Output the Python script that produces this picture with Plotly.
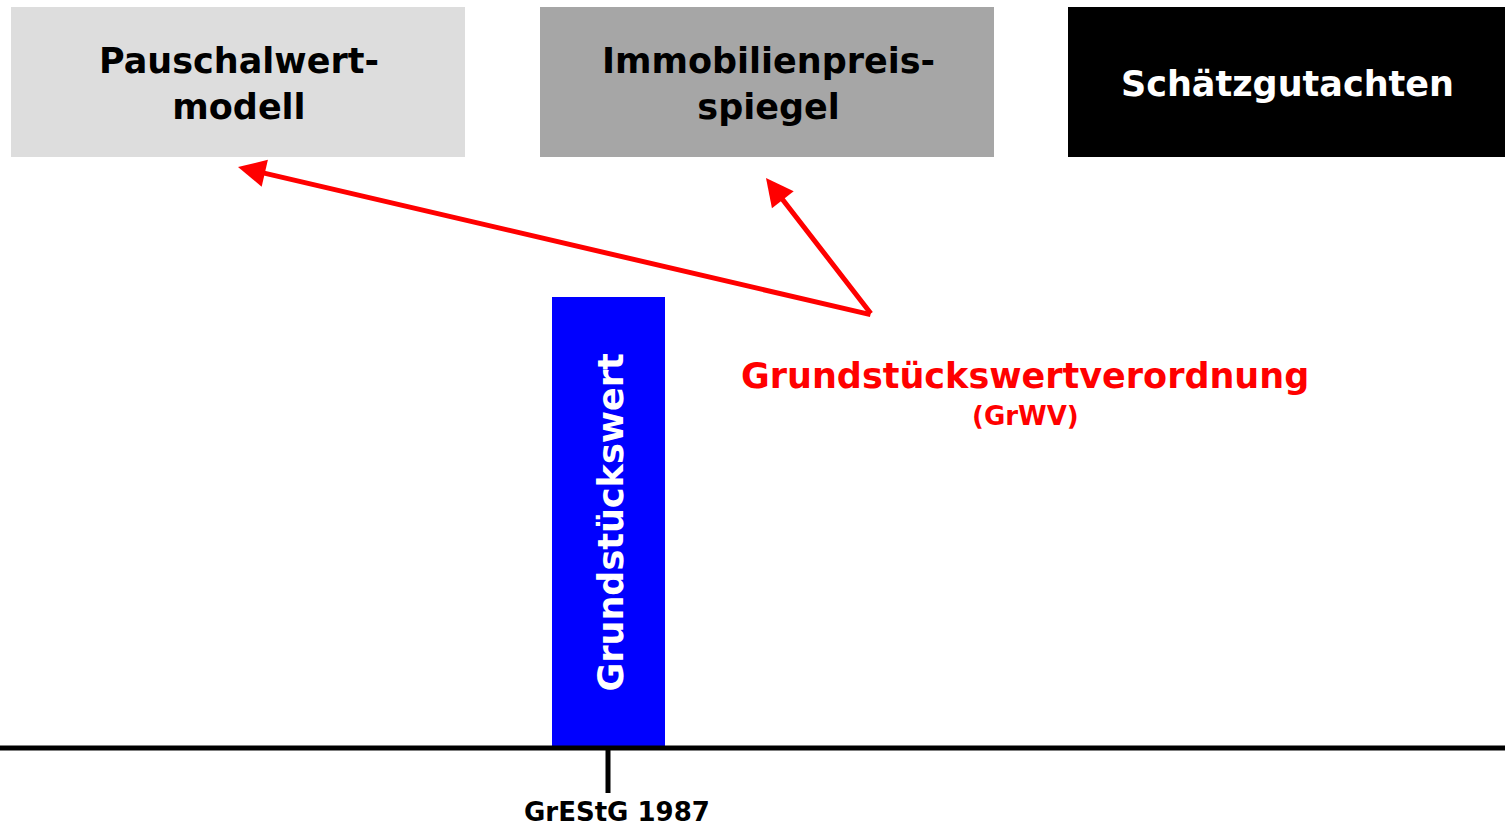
import plotly.graph_objects as go

# --- data ---
box_labels = ["Pauschalwert-<br>modell", "Immobilienpreis-<br>spiegel", "Schätzgutachten"]
box_x0 = [11, 540, 1068]
box_x1 = [465, 994, 1505]
box_colors = ["#DDDDDD", "#A6A6A6", "#000000"]
box_text_colors = ["#000000", "#000000", "#FFFFFF"]
box_top, box_bottom = 7, 157

bar_label = "Grundstückswert"
bar_center = [608.5]
bar_top = [297]
bar_bottom = [746]
bar_width = 113

axis_y = 748
tick_x = 608
tick_label = "GrEStG 1987"

law_title = "Grundstückswertverordnung"
law_sub = "(GrWV)"
arrow_origin = (872, 315)
arrow_targets = [(238, 167), (766, 178)]

FONT = "DejaVu Sans"

fig = go.Figure()

fig.add_trace(go.Bar(
    x=bar_center, y=[b - t for t, b in zip(bar_top, bar_bottom)], base=bar_top,
    width=bar_width, marker=dict(color="#0000FF", line=dict(width=0)),
    hoverinfo="skip", showlegend=False,
))

shapes = []
annotations = []
for lab, x0, x1, c, tc in zip(box_labels, box_x0, box_x1, box_colors, box_text_colors):
    shapes.append(dict(type="rect", xref="x", yref="y", x0=x0, x1=x1, y0=box_top, y1=box_bottom,
                       fillcolor=c, line=dict(width=0), layer="below"))
    annotations.append(dict(x=(x0 + x1) / 2 + 1, y=(box_top + box_bottom) / 2 + 2, xref="x", yref="y",
                            text=lab, showarrow=False,
                            font=dict(family=FONT, size=35, color=tc, weight="bold"),
                            align="center"))

# axis line and tick
shapes.append(dict(type="line", xref="x", yref="y", x0=0, x1=1505, y0=axis_y, y1=axis_y,
                   line=dict(color="black", width=5)))
shapes.append(dict(type="line", xref="x", yref="y", x0=tick_x, x1=tick_x, y0=axis_y, y1=793,
                   line=dict(color="black", width=5)))

annotations.append(dict(x=617, y=812, xref="x", yref="y", text=tick_label, showarrow=False,
                        font=dict(family=FONT, size=26, color="black", weight="bold")))

annotations.append(dict(x=bar_center[0] + 2, y=523, xref="x", yref="y", text=bar_label, showarrow=False,
                        textangle=-90, font=dict(family=FONT, size=35, color="white", weight="bold")))

annotations.append(dict(x=1025, y=376, xref="x", yref="y", text=law_title, showarrow=False,
                        font=dict(family=FONT, size=35, color="#FF0000", weight="bold")))
annotations.append(dict(x=1025, y=416, xref="x", yref="y", text=law_sub, showarrow=False,
                        font=dict(family=FONT, size=26, color="#FF0000", weight="bold")))

for tx, ty in arrow_targets:
    annotations.append(dict(x=tx, y=ty, ax=arrow_origin[0], ay=arrow_origin[1], xref="x", yref="y",
                            axref="x", ayref="y", text="", showarrow=True, arrowhead=2,
                            arrowsize=1.1, arrowwidth=5, arrowcolor="#FF0000", standoff=0))

fig.update_layout(
    width=1505, height=830, margin=dict(l=0, r=0, t=0, b=0),
    paper_bgcolor="white", plot_bgcolor="white",
    xaxis=dict(range=[0, 1505], visible=False, fixedrange=True),
    yaxis=dict(range=[830, 0], visible=False, fixedrange=True),
    shapes=shapes, annotations=annotations, bargap=0,
)

fig.write_html("out.html", config={"displayModeBar": False},
               post_script="document.body.style.margin='0';document.body.style.overflow='hidden';")
